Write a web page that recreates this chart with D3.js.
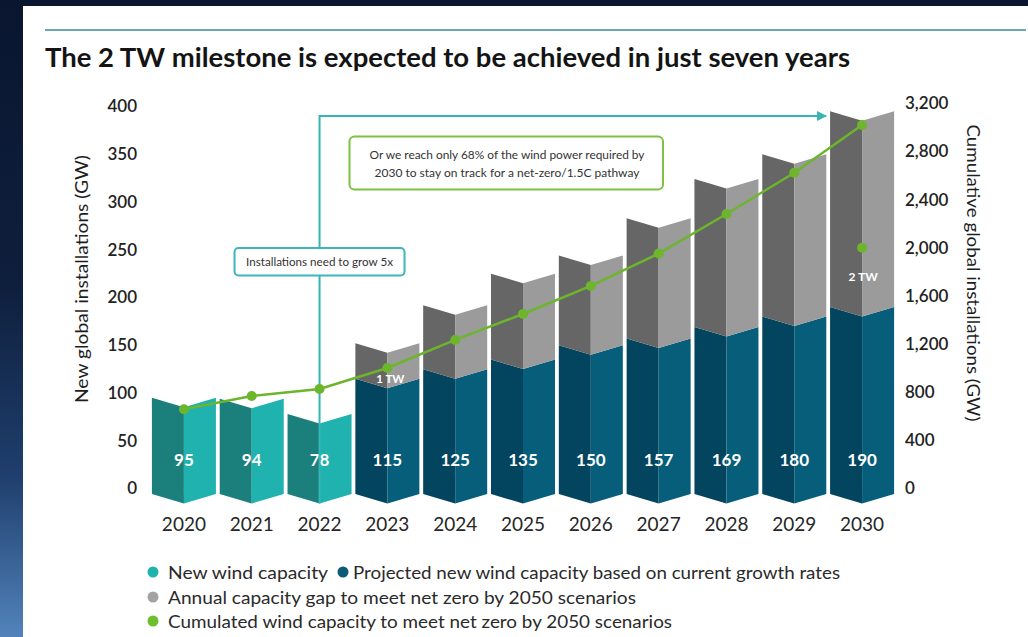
<!DOCTYPE html>
<html>
<head>
<meta charset="utf-8">
<script src="https://cdn.jsdelivr.net/npm/d3@7"></script>
<style>
  html, body { margin: 0; padding: 0; background: #0b1833; }
  svg { display: block; font-family: Lato, "Open Sans", "Noto Sans", sans-serif; }
</style>
</head>
<body>
<svg id="chart" width="1028" height="637"></svg>
<script>
// ---- data -------------------------------------------------------------
const years = [2020, 2021, 2022, 2023, 2024, 2025, 2026, 2027, 2028, 2029, 2030];
// new installations per year (GW); 2020-2022 actual, 2023 onward projected
const newCapacity = [95, 94, 78, 115, 125, 135, 150, 157, 169, 180, 190];
// additional yearly installations needed for the net-zero pathway (GW)
const capacityGap = [0, 0, 0, 37, 67, 90, 94, 126, 155, 170, 205];
// cumulative capacity needed for the net-zero pathway (GW)
const cumulative = [657, 767, 825, 1000, 1233, 1449, 1682, 1951, 2280, 2623, 3020];
const firstProjectedYear = 2023;
// cumulative capacity reached on the current trajectory by 2030 (GW)
const trajectoryYear = 2030;
const trajectoryValue = 2000;
const leftTicks = [0, 50, 100, 150, 200, 250, 300, 350, 400];
const rightTicks = [0, 400, 800, 1200, 1600, 2000, 2400, 2800, 3200];
const legendItems = [
  "New wind capacity",
  "Projected new wind capacity based on current growth rates",
  "Annual capacity gap to meet net zero by 2050 scenarios",
  "Cumulated wind capacity to meet net zero by 2050 scenarios"
];

// ---- setup ------------------------------------------------------------
const svg = d3.select("#chart");
const W = 1028, H = 637;

const defs = svg.append("defs");
const bg = defs.append("linearGradient").attr("id", "bgGrad")
  .attr("x1", 0).attr("y1", 0).attr("x2", 0).attr("y2", 1);
bg.append("stop").attr("offset", 0).attr("stop-color", "#0a1630");
bg.append("stop").attr("offset", 0.45).attr("stop-color", "#0e1f3d");
bg.append("stop").attr("offset", 0.75).attr("stop-color", "#1f3f6e");
bg.append("stop").attr("offset", 1).attr("stop-color", "#5283bb");

defs.append("marker").attr("id", "arrowHead")
  .attr("viewBox", "0 0 10 10").attr("refX", 9).attr("refY", 5)
  .attr("markerWidth", 10).attr("markerHeight", 10)
  .attr("markerUnits", "userSpaceOnUse").attr("orient", "auto")
  .append("path").attr("d", "M0,0 L10,5 L0,10 Z").attr("fill", "#36b4b6");

svg.append("rect").attr("width", W).attr("height", H).attr("fill", "url(#bgGrad)");
svg.append("rect").attr("x", 23).attr("y", 6).attr("width", W - 23).attr("height", H - 6).attr("fill", "#ffffff");

// top rule and title
svg.append("line").attr("x1", 45).attr("x2", 1026).attr("y1", 30).attr("y2", 30)
  .attr("stroke", "#3a8aa0").attr("stroke-width", 1.6);

function fitWidth(sel, w) {
  sel.attr("textLength", w).attr("lengthAdjust", "spacingAndGlyphs");
}

svg.append("text").attr("x", 45).attr("y", 67)
  .attr("font-size", 26).attr("font-weight", 700).attr("fill", "#141414")
  .text("The 2 TW milestone is expected to be achieved in just seven years")
  .call(fitWidth, 805);

// ---- scales -----------------------------------------------------------
const x = d3.scaleBand().domain(years).range([150, 896])
  .paddingInner(0.056).paddingOuter(0.028);
const yL = d3.scaleLinear().domain([0, 400]).range([488.5, 106.5]);
const yR = d3.scaleLinear().domain([0, 3200]).range([488.3, 103.3]);

const fold = 9.5;       // depth of the centre fold of each bar
const baseDrop = 5.5;   // how far the bar feet reach below zero

// ---- axes -------------------------------------------------------------
const axisL = svg.append("g").attr("transform", "translate(140,0)")
  .call(d3.axisLeft(yL).tickValues(leftTicks).tickSize(0).tickPadding(3));
const axisR = svg.append("g").attr("transform", "translate(902,0)")
  .call(d3.axisRight(yR).tickValues(rightTicks).tickSize(0).tickPadding(3)
    .tickFormat(d3.format(",")));
[axisL, axisR].forEach(a => {
  a.select(".domain").remove();
  a.selectAll("text").attr("font-size", 17).attr("font-weight", 600)
    .attr("fill", "#222").attr("font-family", "Lato, sans-serif");
});

svg.append("text")
  .attr("transform", `translate(88,${279}) rotate(-90)`)
  .attr("text-anchor", "middle").attr("font-size", 17).attr("fill", "#1e1e1e")
  .text("New global installations (GW)").call(fitWidth, 248);
svg.append("text")
  .attr("transform", `translate(967,${273}) rotate(90)`)
  .attr("text-anchor", "middle").attr("font-size", 17).attr("fill", "#1e1e1e")
  .text("Cumulative global installations (GW)").call(fitWidth, 297);

// ---- bars ---------------------------------------------------------------
const rows = years.map((yr, i) => ({ year: yr, base: newCapacity[i], gap: capacityGap[i] }));
const stacked = d3.stack().keys(["base", "gap"])(rows);

const palette = {
  actual: ["#1b7f7c", "#1fb2ae"],
  projected: ["#03445e", "#065e7b"],
  gap: ["#666666", "#9b9b9b"]
};

const bars = svg.append("g");
stacked.forEach(layer => {
  layer.forEach(seg => {
    const yr = seg.data.year;
    if (seg[1] - seg[0] <= 0) return;
    const xl = x(yr), xr = x(yr) + x.bandwidth(), xc = x(yr) + x.bandwidth() / 2;
    const yt = yL(seg[1]);
    const yb = seg[0] === 0 ? yL(0) + baseDrop : yL(seg[0]);
    const cols = layer.key === "gap" ? palette.gap
      : (yr >= firstProjectedYear ? palette.projected : palette.actual);
    bars.append("path")
      .attr("d", `M${xl},${yt} L${xc},${yt + fold} L${xc},${yb + fold} L${xl},${yb} Z`)
      .attr("fill", cols[0]);
    bars.append("path")
      .attr("d", `M${xc},${yt + fold} L${xr},${yt} L${xr},${yb} L${xc},${yb + fold} Z`)
      .attr("fill", cols[1]);
  });
});

// value labels inside the bars
svg.append("g").selectAll("text").data(rows).join("text")
  .attr("x", d => x(d.year) + x.bandwidth() / 2).attr("y", 459)
  .attr("text-anchor", "middle").attr("dominant-baseline", "central")
  .attr("font-size", 17).attr("font-weight", 700).attr("fill", "#ffffff")
  .text(d => d.base);

// year labels
svg.append("g").selectAll("text").data(years).join("text")
  .attr("x", d => x(d) + x.bandwidth() / 2).attr("y", 523)
  .attr("text-anchor", "middle").attr("dominant-baseline", "central")
  .attr("font-size", 19).attr("fill", "#262626")
  .text(d => d);

// ---- growth annotation (teal) ----------------------------------------------
const cx = yr => x(yr) + x.bandwidth() / 2;
const arrowY = 116;
svg.append("path")
  .attr("d", `M${cx(2022)},${yL(0) + baseDrop + fold} V${arrowY} H${x(2030) - 4}`)
  .attr("fill", "none").attr("stroke", "#36b4b6").attr("stroke-width", 2)
  .attr("marker-end", "url(#arrowHead)");

// ---- cumulative line -----------------------------------------------------
const green = "#6cb52d";
const cumData = years.map((yr, i) => ({ year: yr, v: cumulative[i] }));
svg.append("path").datum(cumData)
  .attr("d", d3.line().x(d => cx(d.year)).y(d => yR(d.v)))
  .attr("fill", "none").attr("stroke", green).attr("stroke-width", 2.5);
svg.append("g").selectAll("circle").data(cumData).join("circle")
  .attr("cx", d => cx(d.year)).attr("cy", d => yR(d.v)).attr("r", 5)
  .attr("fill", green);

svg.append("circle").attr("cx", cx(trajectoryYear)).attr("cy", yR(trajectoryValue))
  .attr("r", 5).attr("fill", green);
svg.append("text").attr("x", cx(trajectoryYear) + 1).attr("y", yR(trajectoryValue) + 29)
  .attr("text-anchor", "middle").attr("dominant-baseline", "central")
  .attr("font-size", 12).attr("font-weight", 700).attr("fill", "#ffffff").text("2 TW");
svg.append("text").attr("x", cx(2023) + 3).attr("y", yR(1000) + 11)
  .attr("text-anchor", "middle").attr("dominant-baseline", "central")
  .attr("font-size", 11.5).attr("font-weight", 700).attr("fill", "#ffffff").text("1 TW");

// ---- callout boxes ---------------------------------------------------------
const box1 = svg.append("g");
box1.append("rect").attr("x", cx(2022) - 85).attr("y", 248).attr("width", 170).attr("height", 27.5)
  .attr("rx", 4).attr("fill", "#ffffff").attr("stroke", "#3cb6b8").attr("stroke-width", 2);
box1.append("text").attr("x", cx(2022)).attr("y", 262)
  .attr("text-anchor", "middle").attr("dominant-baseline", "central")
  .attr("font-size", 10.5).attr("fill", "#333")
  .text("Installations need to grow 5x").call(fitWidth, 147);

const box2 = svg.append("g");
box2.append("rect").attr("x", 349.5).attr("y", 136.5).attr("width", 313.5).attr("height", 53)
  .attr("rx", 5).attr("fill", "#ffffff").attr("stroke", "#7dc243").attr("stroke-width", 2);
box2.append("text").attr("x", 507).attr("y", 155)
  .attr("text-anchor", "middle").attr("dominant-baseline", "central")
  .attr("font-size", 10.5).attr("fill", "#333")
  .text("Or we reach only 68% of the wind power required by").call(fitWidth, 275);
box2.append("text").attr("x", 507).attr("y", 172.5)
  .attr("text-anchor", "middle").attr("dominant-baseline", "central")
  .attr("font-size", 10.5).attr("fill", "#333")
  .text("2030 to stay on track for a net-zero/1.5C pathway").call(fitWidth, 265);

// ---- legend ------------------------------------------------------------------
const legendColors = ["#20b2ad", "#0a5a78", "#a3a3a3", "#6cbf2f"];
const legendPos = [
  { x: 153, y: 572, w: 160 },
  { x: 343, y: 572, w: 487 },
  { x: 153, y: 597, w: 468 },
  { x: 153, y: 621, w: 504 }
];
const legend = svg.append("g");
legendItems.forEach((label, i) => {
  const p = legendPos[i];
  legend.append("circle").attr("cx", p.x).attr("cy", p.y).attr("r", 5.5).attr("fill", legendColors[i]);
  legend.append("text").attr("x", p.x + (i === 1 ? 10 : 15)).attr("y", p.y)
    .attr("dominant-baseline", "central").attr("font-size", 17).attr("fill", "#2a2a2a")
    .text(label).call(fitWidth, p.w);
});
</script>
</body>
</html>
